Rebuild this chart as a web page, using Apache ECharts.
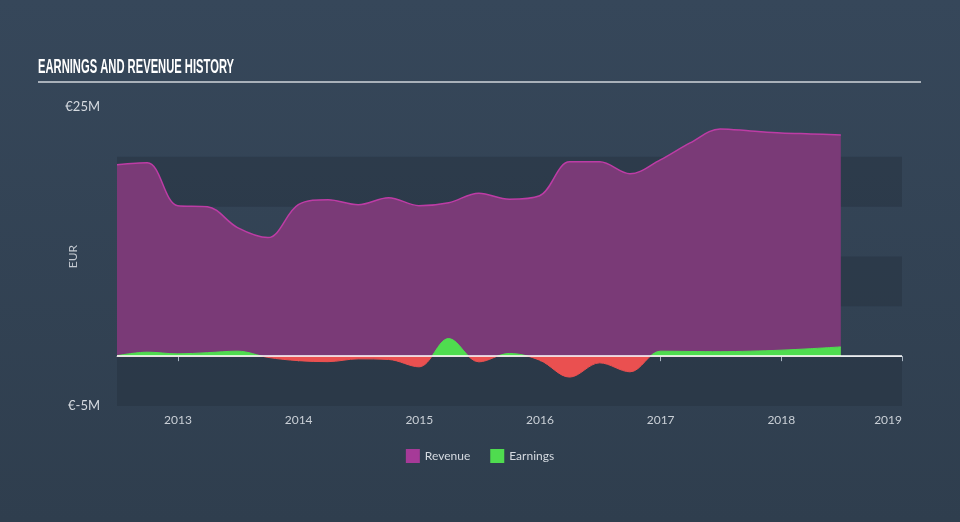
<!DOCTYPE html>
<html>
<head>
<meta charset="utf-8">
<script src="https://cdn.jsdelivr.net/npm/echarts@6/dist/echarts.min.js"></script>
<style>
html,body{margin:0;padding:0;width:960px;height:522px;overflow:hidden;}
#c{width:960px;height:522px;}
</style>
</head>
<body>
<div id="c"></div>
<script>
const dates = ['2012-06-30','2012-09-30','2012-12-31','2013-03-31','2013-06-30','2013-09-30','2013-12-31',
  '2014-03-31','2014-06-30','2014-09-30','2014-12-31','2015-03-31','2015-06-30','2015-09-30','2015-12-31',
  '2016-03-31','2016-06-30','2016-09-30','2016-12-31','2017-03-31','2017-06-30','2017-09-30','2017-12-31',
  '2018-03-31','2018-06-30'];
const revenue = [19.2,19.4,15.1,15.0,12.9,11.9,15.2,15.7,15.2,15.9,15.1,15.4,16.35,15.75,16.1,
  19.5,19.5,18.3,19.7,21.4,22.8,22.6,22.4,22.3,22.2];
const earnings = [0.05,0.4,0.23,0.35,0.5,-0.12,-0.45,-0.55,-0.27,-0.33,-1.07,1.77,-0.57,0.27,-0.4,
  -2.1,-0.67,-1.57,0.5,0.47,0.45,0.5,0.6,0.75,0.93];
const yearTicks = [2013,2014,2015,2016,2017,2018,2019];
const yTickLabels = {'-5':'€-5M','25':'€25M'};

function toYear(s){
  const d = new Date(s+'T00:00:00Z');
  const y = d.getUTCFullYear();
  const start = Date.UTC(y,0,1), end = Date.UTC(y+1,0,1);
  return y + (d.getTime()-start)/(end-start);
}
const xs = dates.map(toYear);

const chart = echarts.init(document.getElementById('c'), null, {renderer:'canvas'});
const font = 'Lato, "Open Sans", sans-serif';
chart.setOption({
  backgroundColor: {type:'linear',x:0,y:0,x2:0,y2:1,colorStops:[{offset:0,color:'#36475a'},{offset:1,color:'#2f3e4e'}]},
  animation:false,
  graphic:[
    {type:'text',left:38,top:57,scaleX:0.56,originX:0,
      style:{text:'EARNINGS AND REVENUE HISTORY',fill:'#ffffff',
        font:'bold 20px "Liberation Sans", Arial, sans-serif'},silent:true},
    {type:'rect',shape:{x:38,y:81,width:883,height:2},style:{fill:'#a9b1ba'},silent:true}
  ],
  grid:{left:117,right:58,top:107,bottom:116},
  legend:{
    bottom:54, left:'center', itemWidth:14, itemHeight:14, itemGap:20, icon:'rect',
    textStyle:{color:'#d5dae0',fontSize:12,fontFamily:font},
    data:[{name:'Revenue',itemStyle:{color:'#a63a98'}},{name:'Earnings',itemStyle:{color:'#4fdc4f'}}]
  },
  xAxis:{
    type:'value',
    min:xs[0], max:2019,
    axisLine:{lineStyle:{color:'#a9b5c2',width:1}},
    axisTick:{show:true,length:5,lineStyle:{color:'#a9b5c2'},customValues:yearTicks},
    axisLabel:{color:'#c9cfd6',fontSize:12,fontFamily:font,margin:8,
      customValues:yearTicks, alignMaxLabel:'right',
      formatter:v=>String(Math.round(v))},
    splitLine:{show:false}
  },
  yAxis:{
    type:'value', min:-5, max:25, interval:5,
    name:'EUR', nameLocation:'middle', nameGap:38, nameRotate:90, nameMoveOverlap:false,
    nameTextStyle:{color:'#c3c9d0',fontSize:12,fontFamily:font},
    axisLine:{show:false}, axisTick:{show:false},
    axisLabel:{color:'#d5dae0',fontSize:13,fontFamily:font,margin:17,
      formatter:v=>yTickLabels[String(v)]||''},
    splitLine:{show:false},
    splitArea:{show:true,areaStyle:{color:['rgba(38,50,64,0.5)','rgba(0,0,0,0)']}}
  },
  visualMap:{
    show:false, type:'piecewise', seriesIndex:1, dimension:1,
    pieces:[{gte:-50,lt:0,color:'#ea5050'},{gte:0,lte:50,color:'#4fdc4f'}]
  },
  series:[
    {
      name:'Revenue', type:'line', smooth:0.35, symbol:'none',
      data:xs.map((x,i)=>[x,revenue[i]]),
      lineStyle:{color:'#bd3ca5',width:1.5},
      itemStyle:{color:'#a63a98'},
      areaStyle:{color:'#7a3a77',opacity:1},
      z:2
    },
    {
      name:'Earnings', type:'line', smooth:0.35, symbol:'none',
      data:xs.map((x,i)=>[x,earnings[i]]),
      lineStyle:{width:1},
      itemStyle:{color:'#4fdc4f'},
      areaStyle:{opacity:1},
      markLine:{silent:true,symbol:'none',label:{show:false},
        lineStyle:{color:'#ffffff',width:1.5,type:'solid'},
        data:[{yAxis:0}]},
      z:3
    }
  ]
});
</script>
</body>
</html>
